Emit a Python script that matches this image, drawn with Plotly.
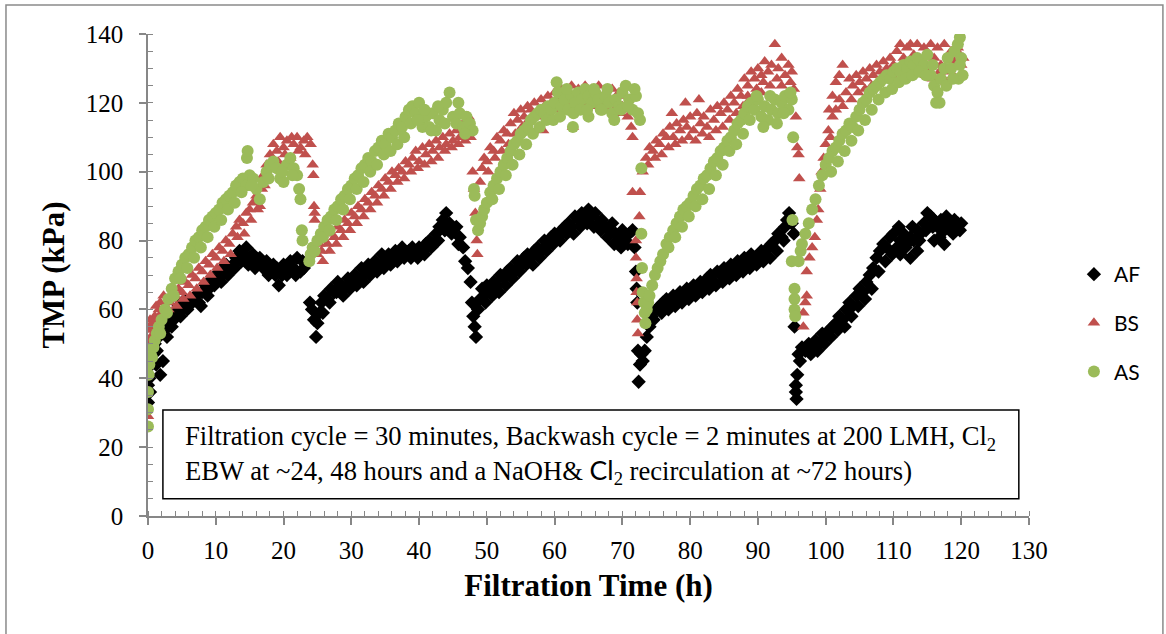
import plotly.graph_objects as go

# TMP readings (time h, TMP kPa), one list per cycle
af_c1 = [(0.0, 33), (0.0, 38), (0.2, 40), (0.5, 44), (0.8, 47), (1.0, 50), (1.3, 48), (1.6, 52), (1.8, 41),
         (2.2, 45), (2.5, 54), (3.0, 56), (3.5, 55), (4.0, 59), (4.5, 61), (5.0, 60), (5.5, 63), (6.0, 61),
         (6.5, 62), (7.0, 64), (7.5, 62), (8.0, 65), (8.5, 67), (9.0, 66), (9.5, 69), (10.0, 68), (10.5, 71),
         (11.0, 70), (11.5, 73), (12.0, 71), (12.5, 73), (13.0, 75), (13.5, 77), (14.0, 76), (14.5, 78),
         (15.0, 75), (15.5, 76), (16.0, 74), (16.5, 75), (17.0, 72), (17.5, 74), (18.0, 71), (18.5, 73),
         (19.0, 72), (19.3, 67), (19.5, 71), (20.0, 73), (20.5, 70), (21.0, 74), (21.5, 72), (22.0, 75),
         (22.5, 71), (23.0, 72)]
af_c2 = [(23.9, 62), (24.2, 60), (24.5, 57), (24.8, 52), (25.0, 56), (25.3, 59), (25.6, 62), (26.0, 64),
         (26.5, 63), (27.0, 66), (27.5, 65), (28.0, 68), (28.5, 67), (29.0, 66), (29.5, 69), (30.0, 68),
         (30.5, 70), (31.0, 69), (31.5, 72), (32.0, 70), (32.5, 73), (33.0, 72), (33.5, 74), (34.0, 73),
         (34.5, 76), (35.0, 74), (35.5, 76), (36.0, 75), (36.5, 77), (37.0, 76), (37.5, 78), (38.0, 76),
         (38.5, 77), (39.0, 78), (39.5, 76), (40.0, 78), (40.5, 77), (41.0, 79), (41.5, 80), (42.0, 79),
         (42.5, 82), (43.0, 84), (43.5, 86), (44.0, 88), (44.5, 85), (45.0, 83), (45.5, 84), (46.0, 81),
         (46.5, 78), (46.8, 74), (47.2, 72), (47.6, 68), (47.8, 62), (48.0, 58), (48.2, 55), (48.4, 52)]
af_c3 = [(48.7, 60), (49.0, 63), (49.3, 66), (49.6, 64), (50.0, 67), (50.5, 66), (51.0, 68), (51.5, 67),
         (52.0, 70), (52.5, 69), (53.0, 71), (53.5, 72), (54.0, 71), (54.5, 74), (55.0, 73), (55.5, 75),
         (56.0, 76), (56.5, 75), (57.0, 77), (57.5, 78), (58.0, 77), (58.5, 80), (59.0, 79), (59.5, 81),
         (60.0, 82), (60.5, 81), (61.0, 83), (61.5, 84), (62.0, 85), (62.5, 84), (63.0, 87), (63.5, 86),
         (64.0, 88), (64.5, 86), (65.0, 89), (65.5, 87), (66.0, 88), (66.5, 85), (67.0, 86), (67.5, 84),
         (68.0, 83), (68.5, 85), (69.0, 82), (69.5, 81), (70.0, 83), (70.5, 80), (71.0, 82), (71.5, 83),
         (71.8, 78)]
af_c4 = [(72.0, 71), (72.1, 66), (72.2, 62), (72.3, 48), (72.4, 39), (72.6, 44), (72.8, 47), (73.0, 45),
         (73.3, 48), (73.6, 52), (74.0, 55), (74.3, 58), (74.6, 57), (75.0, 60), (75.5, 61), (76.0, 62),
         (76.5, 63), (77.0, 61), (77.5, 64), (78.0, 63), (78.5, 65), (79.0, 64), (79.5, 66), (80.0, 65),
         (80.5, 67), (81.0, 66), (81.5, 68), (82.0, 67), (82.5, 69), (83.0, 70), (83.5, 68), (84.0, 71),
         (84.5, 70), (85.0, 72), (85.5, 71), (86.0, 73), (86.5, 72), (87.0, 74), (87.5, 73), (88.0, 75),
         (88.5, 74), (89.0, 76), (89.5, 75), (90.0, 74), (90.5, 77), (91.0, 76), (91.5, 78), (92.0, 79),
         (92.5, 80), (93.0, 82), (93.5, 81), (94.0, 84), (94.3, 86), (94.6, 88), (95.0, 85), (95.3, 82),
         (95.4, 55)]
af_c5 = [(95.6, 38), (95.6, 36), (95.7, 34), (95.8, 41), (96.0, 47), (96.2, 45), (96.5, 49), (97.0, 48),
         (97.5, 50), (98.0, 49), (98.5, 51), (99.0, 50), (99.5, 53), (100.0, 52), (100.5, 54), (101.0, 55),
         (101.5, 56), (102.0, 58), (102.5, 57), (103.0, 60), (103.5, 62), (104.0, 61), (104.5, 64),
         (105.0, 66), (105.5, 65), (106.0, 68), (106.5, 70), (107.0, 72), (107.5, 75), (108.0, 77),
         (108.5, 79), (109.0, 78), (109.5, 81), (110.0, 82), (110.5, 78), (111.0, 80), (111.0, 76),
         (111.5, 82), (112.0, 79), (112.5, 81), (112.5, 75), (113.0, 80), (113.5, 83), (113.5, 77),
         (114.0, 82), (114.5, 85), (115.0, 88), (115.5, 87), (116.0, 86), (116.0, 80), (116.5, 84),
         (117.0, 86), (117.5, 83), (117.5, 79), (118.0, 85), (118.5, 84), (119.0, 86), (119.5, 85), (120.0, 85)]
af_scatter = [(0.3, 36), (1.2, 44), (2.8, 52), (3.8, 57), (4.8, 58), (5.8, 60), (6.8, 63), (7.8, 61), (8.8, 64),
              (9.8, 67), (10.8, 68), (11.8, 70), (12.8, 72), (13.8, 74), (14.8, 73), (15.8, 72), (16.8, 73),
              (17.8, 70), (18.8, 70), (19.8, 70), (20.8, 72), (21.8, 70), (22.8, 74),
              (25.8, 59), (26.8, 62), (27.8, 65), (28.8, 64), (29.8, 66), (30.8, 67), (31.8, 68), (32.8, 70),
              (33.8, 71), (34.8, 72), (35.8, 73), (36.8, 74), (37.8, 75), (38.8, 75), (39.8, 75), (40.8, 76),
              (41.8, 78), (42.8, 80), (43.8, 83), (44.8, 82), (45.8, 79),
              (49.8, 62), (50.8, 64), (51.8, 65), (52.8, 67), (53.8, 69), (54.8, 71), (55.8, 73), (56.8, 73),
              (57.8, 75), (58.8, 77), (59.8, 79), (60.8, 80), (61.8, 82), (62.8, 82), (63.8, 84), (64.8, 85),
              (65.8, 84), (66.8, 83), (67.8, 81), (68.8, 79), (69.8, 78), (70.8, 79),
              (75.8, 59), (76.8, 60), (77.8, 61), (78.8, 62), (79.8, 63), (80.8, 64), (81.8, 65), (82.8, 66),
              (83.8, 67), (84.8, 68), (85.8, 69), (86.8, 70), (87.8, 71), (88.8, 72), (89.8, 73), (90.8, 74),
              (91.8, 75), (92.8, 77), (93.8, 80),
              (97.8, 47), (98.8, 48), (99.8, 50), (100.8, 52), (101.8, 54), (102.8, 55), (103.8, 58),
              (104.8, 61), (105.8, 63), (106.8, 66), (107.8, 71), (108.8, 74), (109.8, 76), (110.8, 84),
              (111.8, 78), (112.8, 84), (113.8, 80), (114.8, 83), (115.8, 84), (116.8, 81), (117.8, 87),
              (118.8, 82), (119.8, 83)]

bs_c1 = [(0.0, 29), (0.1, 50), (0.2, 54), (0.4, 52), (0.6, 56), (0.8, 55), (1.0, 58), (1.3, 57), (1.6, 60),
         (1.8, 62), (2.0, 59), (2.5, 61), (3.0, 60), (3.5, 63), (4.0, 64), (4.5, 66), (5.0, 65), (5.5, 68),
         (6.0, 67), (6.5, 70), (7.0, 69), (7.5, 72), (8.0, 71), (8.5, 74), (9.0, 73), (9.5, 76), (10.0, 75),
         (10.5, 78), (11.0, 77), (11.5, 80), (12.0, 79), (12.5, 82), (13.0, 84), (13.5, 86), (14.0, 85),
         (14.5, 88), (15.0, 89), (15.5, 91), (16.0, 93), (16.5, 90), (16.8, 95), (17.0, 99), (17.5, 102),
         (18.0, 105), (18.5, 108), (19.0, 106), (19.5, 110), (20.0, 107), (20.5, 109), (21.0, 104),
         (21.5, 108), (22.0, 110), (22.5, 107), (23.0, 109), (23.5, 110), (24.0, 108), (24.3, 102),
         (24.4, 99), (24.5, 90), (24.6, 88), (24.6, 86)]
bs_c2 = [(25.0, 76), (25.3, 79), (25.6, 77), (26.0, 80), (26.5, 79), (27.0, 82), (27.5, 81), (28.0, 84),
         (28.5, 83), (29.0, 86), (29.5, 85), (30.0, 88), (30.5, 87), (31.0, 90), (31.5, 89), (32.0, 92),
         (32.5, 91), (33.0, 94), (33.5, 93), (34.0, 96), (34.5, 95), (35.0, 98), (35.5, 97), (36.0, 100),
         (36.5, 99), (37.0, 101), (37.5, 100), (38.0, 103), (38.5, 102), (39.0, 104), (39.5, 106),
         (40.0, 103), (40.5, 107), (41.0, 105), (41.5, 108), (42.0, 106), (42.5, 109), (43.0, 107),
         (43.5, 110), (44.0, 108), (44.5, 111), (45.0, 109), (45.5, 112), (46.0, 110), (46.5, 114),
         (47.0, 112), (47.3, 116), (47.6, 110), (47.9, 100), (48.1, 95), (48.3, 88), (48.5, 80), (48.6, 76)]
bs_c3 = [(49.0, 97), (49.3, 101), (49.6, 104), (50.0, 103), (50.5, 107), (51.0, 106), (51.5, 110),
         (52.0, 109), (52.5, 112), (53.0, 111), (53.5, 114), (54.0, 117), (54.5, 115), (55.0, 118),
         (55.5, 116), (56.0, 119), (56.5, 118), (57.0, 120), (57.5, 117), (58.0, 121), (58.3, 112),
         (58.5, 119), (59.0, 122), (59.5, 120), (60.0, 123), (60.5, 121), (61.0, 124), (61.5, 120),
         (62.0, 123), (62.5, 125), (62.7, 113), (63.0, 121), (63.5, 124), (64.0, 122), (64.5, 125),
         (65.0, 121), (65.5, 124), (66.0, 122), (66.5, 125), (67.0, 120), (67.5, 123), (68.0, 121),
         (68.5, 124), (69.0, 120), (69.5, 123), (70.0, 119), (70.5, 122), (71.0, 118), (71.3, 113),
         (71.5, 110), (71.5, 94)]
bs_c4 = [(72.0, 80), (72.0, 75), (72.1, 69), (72.1, 65), (72.2, 62), (72.2, 57), (72.3, 53), (72.5, 87),
         (72.6, 94), (73.0, 100), (73.5, 104), (74.0, 107), (74.5, 106), (75.0, 109), (75.5, 108),
         (76.0, 111), (76.5, 110), (77.0, 113), (77.5, 110), (78.0, 114), (78.5, 112), (79.0, 115),
         (79.5, 113), (80.0, 116), (80.5, 112), (81.0, 117), (81.5, 114), (82.0, 116), (82.5, 113),
         (83.0, 118), (83.5, 115), (84.0, 119), (84.5, 117), (85.0, 120), (85.5, 118), (86.0, 122),
         (86.5, 120), (87.0, 124), (87.5, 122), (88.0, 127), (88.5, 122), (88.5, 125), (89.0, 129),
         (89.5, 127), (90.0, 130), (90.5, 123), (90.5, 128), (91.0, 132), (91.5, 129), (92.0, 131),
         (92.5, 137), (93.0, 130), (93.5, 125), (93.5, 133), (94.0, 128), (94.5, 131), (95.0, 129),
         (95.3, 124), (95.6, 116), (95.8, 107), (96.0, 105), (96.1, 98)]
bs_c5 = [(96.7, 59), (96.7, 55), (97.0, 62), (97.2, 64), (97.2, 71), (97.6, 75), (98.0, 78), (98.4, 81),
         (98.7, 86), (98.9, 89), (99.2, 95), (99.4, 100), (99.7, 104), (100.0, 108), (100.4, 112),
         (100.5, 118), (100.7, 110), (101.0, 116), (101.0, 122), (101.5, 118), (101.5, 126), (102.0, 121),
         (102.0, 128), (102.5, 119), (102.5, 131), (103.0, 123), (103.5, 127), (104.0, 125), (104.5, 128),
         (105.0, 126), (105.5, 129), (106.0, 127), (106.5, 130), (107.0, 128), (107.5, 131), (108.0, 129),
         (108.5, 132), (109.0, 130), (109.5, 133), (110.0, 131), (110.5, 135), (111.0, 137), (111.5, 133),
         (112.0, 136), (112.5, 137), (113.0, 134), (113.5, 137), (114.0, 132), (114.5, 136), (115.0, 130),
         (115.5, 137), (116.0, 133), (116.5, 136), (117.0, 131), (117.5, 137), (118.0, 129), (118.5, 135),
         (119.0, 132), (119.5, 136), (120.0, 131), (120.3, 133)]
bs_scatter = [(0.3, 57), (1.2, 61), (2.3, 64), (3.2, 62), (4.2, 61), (5.2, 63), (6.2, 64), (7.2, 66), (8.2, 68),
              (9.2, 70), (10.2, 72), (11.2, 74), (12.2, 76), (13.2, 81), (14.2, 82), (15.2, 86), (16.2, 89),
              (17.2, 96), (18.2, 101), (19.2, 103), (20.2, 105), (21.2, 110), (22.2, 106), (23.2, 105),
              (25.8, 74), (26.8, 77), (27.8, 79), (28.8, 81), (29.8, 83), (30.8, 85), (31.8, 87), (32.8, 89),
              (33.8, 91), (34.8, 93), (35.8, 95), (36.8, 97), (37.8, 98), (38.8, 100), (39.8, 101),
              (40.8, 102), (41.8, 103), (42.8, 104), (43.8, 106), (44.8, 107), (45.8, 108), (46.8, 109),
              (50.2, 100), (51.2, 104), (52.2, 106), (53.2, 108), (54.2, 111), (55.2, 113), (56.2, 115),
              (57.2, 116), (58.8, 117), (59.8, 118), (60.8, 119), (61.8, 118), (62.8, 120), (63.8, 119),
              (64.8, 120), (65.8, 119), (66.8, 119), (67.8, 118), (68.8, 118), (69.8, 117), (70.8, 116),
              (73.8, 102), (74.8, 104), (75.8, 105), (76.8, 107), (77.3, 117), (77.8, 108), (78.8, 109),
              (79.3, 120), (79.8, 110), (80.8, 109), (81.3, 121), (81.8, 111), (82.8, 110), (83.8, 112),
              (84.8, 113), (85.8, 115), (86.8, 117), (87.8, 119), (88.8, 121), (89.8, 124), (90.8, 126),
              (91.8, 125), (92.8, 127), (94.8, 126),
              (103.8, 121), (104.8, 123), (105.8, 124), (106.8, 125), (107.8, 126), (108.8, 127),
              (109.8, 128), (110.8, 130), (111.8, 131), (112.8, 130), (113.8, 129), (114.8, 128),
              (115.8, 127), (116.8, 129), (117.8, 126), (118.8, 128), (119.8, 134)]

as_c1 = [(0.0, 26), (0.0, 31), (0.0, 36), (0.1, 41), (0.2, 44), (0.4, 47), (0.6, 46), (0.8, 49), (1.0, 51),
         (1.3, 53), (1.6, 55), (2.0, 57), (2.5, 60), (3.0, 63), (3.5, 66), (4.0, 69), (4.5, 71), (5.0, 73),
         (5.5, 75), (6.0, 76), (6.5, 78), (7.0, 80), (7.5, 81), (8.0, 83), (8.5, 84), (9.0, 86), (9.5, 87),
         (10.0, 88), (10.5, 89), (11.0, 91), (11.5, 92), (12.0, 93), (12.5, 94), (13.0, 96), (13.5, 97),
         (14.0, 98), (14.5, 96), (14.6, 104), (14.7, 106), (15.0, 99), (15.5, 98), (16.0, 95), (16.5, 92),
         (17.0, 97), (17.5, 100), (18.0, 102), (18.5, 103), (19.0, 101), (19.5, 98), (20.0, 97),
         (20.5, 102), (21.0, 104), (21.5, 101), (22.0, 99), (22.3, 95), (22.5, 92), (22.7, 83), (22.8, 80)]
as_c2 = [(23.8, 74), (24.0, 76), (24.3, 78), (24.6, 77), (25.0, 80), (25.5, 82), (26.0, 84), (26.5, 86),
         (27.0, 87), (27.5, 89), (28.0, 90), (28.5, 92), (29.0, 93), (29.5, 95), (30.0, 96), (30.5, 98),
         (31.0, 99), (31.5, 101), (32.0, 102), (32.5, 104), (33.0, 103), (33.5, 106), (34.0, 107),
         (34.5, 109), (35.0, 108), (35.5, 111), (36.0, 110), (36.5, 112), (37.0, 114), (37.5, 113),
         (38.0, 116), (38.5, 118), (39.0, 119), (39.5, 117), (40.0, 120), (40.5, 113), (41.0, 116),
         (41.5, 113), (42.0, 117), (42.5, 112), (43.0, 115), (43.5, 118), (44.0, 120), (44.5, 123),
         (45.0, 116), (45.5, 114), (46.0, 117), (46.5, 113), (47.0, 116), (47.5, 114), (47.9, 112),
         (48.1, 95), (48.2, 93)]
as_c3 = [(48.4, 86), (48.7, 83), (49.0, 85), (49.3, 87), (49.6, 89), (50.0, 91), (50.5, 94), (51.0, 96),
         (51.5, 98), (52.0, 100), (52.5, 102), (53.0, 104), (53.5, 106), (54.0, 108), (54.5, 109),
         (55.0, 111), (55.5, 112), (56.0, 113), (56.5, 115), (57.0, 116), (57.5, 117), (58.0, 118),
         (58.5, 117), (59.0, 119), (59.5, 118), (60.0, 120), (60.3, 126), (60.5, 123), (61.0, 119),
         (61.5, 121), (62.0, 118), (62.5, 122), (62.7, 113), (63.0, 120), (63.5, 123), (64.0, 121),
         (64.5, 124), (65.0, 122), (65.0, 116), (65.5, 120), (66.0, 123), (66.5, 121), (67.0, 118),
         (67.5, 122), (68.0, 120), (68.5, 117), (69.0, 121), (69.5, 119), (70.0, 123), (70.5, 125),
         (71.0, 121), (71.5, 118), (72.0, 122), (72.3, 117), (72.6, 115), (72.8, 101)]
as_c4 = [(72.8, 82), (72.9, 72), (73.0, 65), (73.2, 62), (73.3, 59), (73.4, 56), (73.6, 60), (73.8, 62),
         (74.0, 64), (74.4, 67), (74.8, 70), (75.2, 72), (75.6, 74), (76.0, 76), (76.5, 79), (77.0, 81),
         (77.5, 83), (78.0, 85), (78.5, 87), (79.0, 89), (79.5, 90), (80.0, 91), (80.5, 93), (81.0, 95),
         (81.5, 96), (82.0, 98), (82.5, 99), (83.0, 101), (83.5, 103), (84.0, 104), (84.5, 106), (85.0, 107),
         (85.5, 109), (86.0, 110), (86.5, 112), (87.0, 114), (87.5, 115), (88.0, 117), (88.5, 119),
         (89.0, 120), (89.5, 118), (90.0, 121), (90.5, 116), (91.0, 119), (91.5, 115), (92.0, 118),
         (92.5, 121), (93.0, 117), (93.5, 120), (94.0, 122), (94.5, 118), (95.0, 121), (95.2, 110),
         (95.1, 86), (95.0, 74), (95.4, 66), (95.4, 63), (95.4, 60), (95.5, 58)]
as_c5 = [(96.0, 74), (96.3, 77), (96.5, 79), (97.0, 82), (97.5, 85), (98.0, 89), (98.5, 92), (99.0, 96),
         (99.5, 99), (100.0, 102), (100.5, 104), (101.0, 106), (101.5, 107), (102.0, 109), (102.5, 111),
         (103.0, 112), (103.5, 114), (104.0, 113), (104.5, 116), (105.0, 118), (105.5, 120), (106.0, 121),
         (106.5, 123), (107.0, 124), (107.5, 125), (108.0, 126), (108.5, 127), (109.0, 128), (109.5, 127),
         (110.0, 129), (110.5, 130), (111.0, 129), (111.5, 131), (112.0, 130), (112.5, 132), (113.0, 131),
         (113.5, 133), (114.0, 132), (114.5, 131), (115.0, 134), (115.5, 128), (116.0, 125), (116.3, 120),
         (116.5, 123), (117.0, 127), (117.5, 130), (118.0, 133), (118.5, 130), (119.0, 135), (119.5, 137),
         (119.6, 127), (119.8, 139), (120.0, 133), (120.2, 128)]
as_scatter = [(1.8, 53), (2.8, 59), (3.8, 64), (4.8, 69), (5.8, 72), (6.8, 75), (7.8, 78), (8.8, 81), (9.8, 84),
              (10.8, 86), (11.8, 89), (12.8, 91), (13.8, 94), (15.3, 96), (17.8, 98), (19.8, 100), (21.3, 99),
              (25.8, 81), (26.8, 83), (27.8, 86), (28.8, 89), (29.8, 92), (30.8, 95), (31.8, 97), (32.8, 100),
              (33.8, 102), (34.8, 105), (35.8, 106), (36.8, 108), (37.8, 110), (38.8, 114), (39.8, 115),
              (40.8, 118), (41.8, 112), (42.8, 119), (43.8, 114), (45.8, 120), (46.8, 111),
              (50.8, 92), (51.8, 95), (52.8, 99), (53.8, 102), (54.8, 105), (55.8, 108), (56.8, 111),
              (57.8, 113), (58.8, 115), (59.8, 115), (60.8, 116), (61.8, 124), (62.8, 117), (63.8, 118),
              (64.8, 118), (65.8, 124), (66.8, 118), (67.8, 124), (68.8, 115), (69.8, 118), (70.8, 119),
              (71.8, 124),
              (76.8, 78), (77.8, 81), (78.8, 84), (79.8, 87), (80.8, 90), (81.8, 92), (82.8, 95), (83.8, 99),
              (84.8, 102), (85.8, 106), (86.8, 108), (87.8, 111), (88.8, 115), (89.8, 122), (90.8, 113),
              (91.8, 122), (92.8, 114), (93.8, 117), (94.8, 123),
              (100.8, 100), (101.8, 103), (102.8, 106), (103.8, 109), (104.8, 112), (105.8, 115),
              (106.8, 118), (107.8, 121), (108.8, 123), (109.8, 124), (110.8, 126), (111.8, 127),
              (112.8, 128), (113.8, 129), (114.8, 128), (115.8, 131), (116.8, 120), (117.8, 125),
              (118.8, 127), (119.8, 131)]

series = [
    ("AF", af_c1 + af_c2 + af_c3 + af_c4 + af_c5 + af_scatter, "diamond", "#000000", 11),
    ("BS", bs_c1 + bs_c2 + bs_c3 + bs_c4 + bs_c5 + bs_scatter, "triangle-up", "#C0504D", 11),
    ("AS", as_c1 + as_c2 + as_c3 + as_c4 + as_c5 + as_scatter, "circle", "#9BBB59", 12),
]
legend_y = [0.501, 0.400, 0.299]

fig = go.Figure()
for i, (name, pts, sym, col, size) in enumerate(series):
    fig.add_trace(go.Scatter(
        x=[p[0] for p in pts], y=[p[1] for p in pts], mode="markers", name=name,
        marker=dict(symbol=sym, color=col, size=size, line=dict(width=0)),
        legend="legend" if i == 0 else "legend%d" % (i + 1),
    ))

axis_col = "#878787"
tick_font = dict(family="Liberation Serif", size=25, color="black")
title_font = dict(family="Liberation Serif", size=31, color="black")

fig.update_xaxes(
    range=[0, 130], dtick=10, tick0=0, showline=True, linecolor=axis_col, linewidth=1.5,
    ticks="outside", ticklen=7, tickcolor=axis_col, tickwidth=1.5, tickfont=tick_font,
    ticklabelstandoff=4,
    minor=dict(dtick=2, ticks="inside", ticklen=5, tickcolor=axis_col, tickwidth=1),
    showgrid=False, zeroline=False,
    title=dict(text="<b>Filtration Time (h)</b>", font=title_font, standoff=12),
)
fig.update_yaxes(
    range=[0, 140], dtick=20, tick0=0, showline=True, linecolor=axis_col, linewidth=1.5,
    ticks="outside", ticklen=7, tickcolor=axis_col, tickwidth=1.5, tickfont=tick_font,
    ticklabelstandoff=11,
    minor=dict(dtick=5, ticks="inside", ticklen=5, tickcolor=axis_col, tickwidth=1),
    showgrid=False, zeroline=False,
    title=dict(text="<b>TMP (kPa)</b>", font=title_font, standoff=12),
)

# note box inside the plot
fig.add_shape(type="rect", xref="x", yref="y", x0=2.2, x1=128.5, y0=5.0, y1=30.8,
              line=dict(color="black", width=1.5), fillcolor="white", layer="above")
note = ("Filtration cycle = 30 minutes, Backwash cycle = 2 minutes at 200 LMH, Cl<sub>2</sub><br>"
        "EBW at ~24, 48 hours and a NaOH& <span style='font-family:Lato'>Cl</span><sub>2</sub>"
        " recirculation at ~72 hours)")
fig.add_annotation(x=5.1, y=17.8, xref="x", yref="y", text=note, showarrow=False,
                   xanchor="left", yanchor="middle", align="left",
                   font=dict(family="Liberation Serif", size=26.6, color="black"))

# outer chart border
fig.add_shape(type="rect", xref="paper", yref="paper", x0=-0.1612, x1=1.152, y0=-0.26, y1=1.06,
              line=dict(color="#8a8a8a", width=1.5), layer="below")

leg = dict(x=1.051, xanchor="left", yanchor="middle", bgcolor="rgba(0,0,0,0)",
           font=dict(family="Lato", size=21, color="black"), itemwidth=30)
fig.update_layout(
    width=1166, height=634,
    margin=dict(l=148, r=137, t=34, b=118),
    paper_bgcolor="white", plot_bgcolor="white",
    showlegend=True,
    legend=dict(leg, y=legend_y[0]),
    legend2=dict(leg, y=legend_y[1]),
    legend3=dict(leg, y=legend_y[2]),
)

fig.write_html("out.html", config={"displayModeBar": False},
               post_script="document.body.style.margin='0px';"
                           "document.body.style.overflow='hidden';")
